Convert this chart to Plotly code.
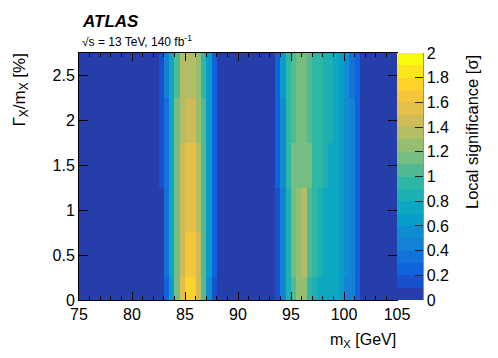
#! /usr/bin/env python
# -*- coding: utf-8 -*-

import plotly.graph_objects as go

# mass bins (0.5 GeV wide) and width rows
mass_gev = [75.25 + 0.5 * i for i in range(60)]
width_pct = [0.0, 0.5, 1.0, 1.5, 2.0, 2.5]

# local significance, one list per width row (60 mass bins each)
sig_w00 = [0.02, 0.02, 0.02, 0.02, 0.02, 0.02, 0.02, 0.02, 0.02, 0.02,
           0.02, 0.02, 0.02, 0.02, 0.02, 0.05, 0.20, 0.60, 1.10, 1.50,
           1.75, 1.72, 1.45, 1.00, 0.50, 0.15, 0.02, 0.02, 0.02, 0.02,
           0.02, 0.02, 0.02, 0.02, 0.02, 0.02, 0.02, 0.10, 0.45, 0.85,
           1.05, 1.25, 1.25, 0.95, 0.85, 0.75, 0.75, 0.70, 0.70, 0.65,
           0.45, 0.40, 0.20, 0.02, 0.02, 0.02, 0.02, 0.02, 0.02, 0.02]
sig_w05 = [0.02, 0.02, 0.02, 0.02, 0.02, 0.02, 0.02, 0.02, 0.02, 0.02,
           0.02, 0.02, 0.02, 0.02, 0.02, 0.05, 0.30, 0.70, 1.10, 1.45,
           1.62, 1.60, 1.40, 1.05, 0.60, 0.20, 0.03, 0.02, 0.02, 0.02,
           0.02, 0.02, 0.02, 0.02, 0.02, 0.02, 0.02, 0.10, 0.40, 0.80,
           1.10, 1.25, 1.30, 1.00, 0.90, 0.80, 0.75, 0.70, 0.70, 0.65,
           0.55, 0.45, 0.25, 0.05, 0.02, 0.02, 0.02, 0.02, 0.02, 0.02]
sig_w10 = [0.02, 0.02, 0.02, 0.02, 0.02, 0.02, 0.02, 0.02, 0.02, 0.02,
           0.02, 0.02, 0.02, 0.02, 0.02, 0.08, 0.35, 0.75, 1.10, 1.45,
           1.58, 1.55, 1.35, 1.05, 0.65, 0.25, 0.04, 0.02, 0.02, 0.02,
           0.02, 0.02, 0.02, 0.02, 0.02, 0.02, 0.02, 0.15, 0.45, 0.85,
           1.10, 1.20, 1.30, 1.00, 0.90, 0.80, 0.75, 0.72, 0.70, 0.65,
           0.55, 0.45, 0.25, 0.05, 0.02, 0.02, 0.02, 0.02, 0.02, 0.02]
sig_w15 = [0.02, 0.02, 0.02, 0.02, 0.02, 0.02, 0.02, 0.02, 0.02, 0.02,
           0.02, 0.02, 0.02, 0.02, 0.02, 0.10, 0.35, 0.75, 1.10, 1.40,
           1.52, 1.50, 1.30, 1.00, 0.65, 0.25, 0.05, 0.02, 0.02, 0.02,
           0.02, 0.02, 0.02, 0.02, 0.02, 0.02, 0.02, 0.20, 0.50, 0.90,
           1.10, 1.15, 1.15, 1.10, 0.95, 0.90, 0.80, 0.75, 0.70, 0.65,
           0.55, 0.40, 0.25, 0.05, 0.02, 0.02, 0.02, 0.02, 0.02, 0.02]
sig_w20 = [0.02, 0.02, 0.02, 0.02, 0.02, 0.02, 0.02, 0.02, 0.02, 0.02,
           0.02, 0.02, 0.02, 0.02, 0.02, 0.10, 0.35, 0.75, 1.10, 1.35,
           1.48, 1.42, 1.28, 1.00, 0.60, 0.25, 0.05, 0.02, 0.02, 0.02,
           0.02, 0.02, 0.02, 0.02, 0.02, 0.02, 0.02, 0.20, 0.55, 0.90,
           1.05, 1.10, 1.10, 1.05, 0.95, 0.90, 0.85, 0.80, 0.70, 0.65,
           0.55, 0.40, 0.25, 0.08, 0.02, 0.02, 0.02, 0.02, 0.02, 0.02]
sig_w25 = [0.02, 0.02, 0.02, 0.02, 0.02, 0.02, 0.02, 0.02, 0.02, 0.02,
           0.02, 0.02, 0.02, 0.02, 0.05, 0.15, 0.40, 0.75, 1.05, 1.30,
           1.38, 1.38, 1.25, 0.95, 0.60, 0.25, 0.05, 0.02, 0.02, 0.02,
           0.02, 0.02, 0.02, 0.02, 0.02, 0.02, 0.02, 0.25, 0.60, 0.90,
           1.05, 1.10, 1.10, 1.05, 0.95, 0.90, 0.85, 0.80, 0.70, 0.60,
           0.50, 0.35, 0.20, 0.08, 0.02, 0.02, 0.02, 0.02, 0.02, 0.02]

sig_rows = [sig_w00, sig_w05, sig_w10, sig_w15, sig_w20, sig_w25]

# ROOT kBird palette, cut into 20 contour bands (0.1 sigma each)
BIRD_STOPS = [0.0, 0.125, 0.25, 0.375, 0.5, 0.625, 0.75, 0.875, 1.0]
BIRD_R = [0.2082, 0.0592, 0.0780, 0.0232, 0.1802, 0.5301, 0.8186, 0.9956, 0.9764]
BIRD_G = [0.1664, 0.3599, 0.5041, 0.6419, 0.7178, 0.7492, 0.7328, 0.7862, 0.9832]
BIRD_B = [0.5293, 0.8684, 0.8385, 0.7914, 0.6425, 0.4662, 0.3499, 0.1968, 0.0539]
N_BANDS = 20


def bird(p):
    """Interpolate the kBird palette at position p in [0, 1]."""
    for k in range(len(BIRD_STOPS) - 1):
        if p <= BIRD_STOPS[k + 1]:
            f = (p - BIRD_STOPS[k]) / (BIRD_STOPS[k + 1] - BIRD_STOPS[k])
            return tuple(int(round(255 * (c[k] + f * (c[k + 1] - c[k]))))
                         for c in (BIRD_R, BIRD_G, BIRD_B))
    return tuple(int(round(255 * c[-1])) for c in (BIRD_R, BIRD_G, BIRD_B))


colorscale = []
for i in range(N_BANDS):
    r, g, b = bird(min((i + 0.99) / N_BANDS, 1.0))
    col = f'rgb({r},{g},{b})'
    colorscale += [[i / N_BANDS, col], [(i + 1) / N_BANDS, col]]

# the page body has an 8px margin, so the figure is drawn 8px in
PAGE_OFF = 8
FIG_W, FIG_H = 498 - PAGE_OFF, 358 - PAGE_OFF

# plot area in page pixels (for placing the text)
L, R, T, B = 79, 397, 53, 300


def px_x(x):
    return (x - L) / (R - L)


def px_y(y):
    return (B - y) / (B - T)


FONT = 'Liberation Sans, Arial, Helvetica, sans-serif'

fig = go.Figure(go.Heatmap(
    x=mass_gev, y=width_pct, z=sig_rows,
    zmin=0, zmax=2, colorscale=colorscale,
    colorbar=dict(x=1.0, xanchor='left', xpad=0, y=0.5, yanchor='middle',
                  ypad=0, len=1, lenmode='fraction',
                  thickness=26, thicknessmode='pixels',
                  outlinewidth=0, tick0=0, dtick=0.2,
                  ticks='inside', ticklen=8, tickcolor='#222',
                  tickfont=dict(family=FONT, size=16, color='black')),
))

fig.update_xaxes(range=[75, 105], tick0=75, dtick=5,
                 ticks='inside', ticklen=8, tickcolor='black',
                 showline=True, linecolor='black', linewidth=1,
                 mirror='ticks', showgrid=False, zeroline=False,
                 minor=dict(dtick=1, ticks='inside', ticklen=4,
                            tickcolor='black'),
                 tickfont=dict(family=FONT, size=16, color='black'))
fig.update_yaxes(range=[0, 2.75], tick0=0, dtick=0.5,
                 ticks='inside', ticklen=9, tickcolor='black',
                 showline=True, linecolor='black', linewidth=1,
                 mirror='ticks', showgrid=False, zeroline=False,
                 tickfont=dict(family=FONT, size=16, color='black'))

annotations = [
    dict(text='<b><i>ATLAS</i></b>', x=px_x(80), y=px_y(21.5),
         xanchor='left', yanchor='middle', font=dict(size=17)),
    dict(text='\u221as = 13 TeV, 140 fb<sup>-1</sup>', x=px_x(80), y=px_y(41),
         xanchor='left', yanchor='middle', font=dict(size=12)),
    dict(text='m<sub>X</sub> [GeV]', x=px_x(398), y=px_y(340),
         xanchor='right', yanchor='middle', font=dict(size=16)),
    dict(text='\u0393<sub>X</sub>/m<sub>X</sub> [%]', x=px_x(20), y=px_y(52),
         xanchor='center', yanchor='top', textangle=-90, font=dict(size=17)),
    dict(text='Local significance [\u03c3]', x=px_x(472), y=px_y(53),
         xanchor='center', yanchor='top', textangle=-90, font=dict(size=16.5)),
]
for a in annotations:
    a.update(xref='paper', yref='paper', showarrow=False)
    a['font'].update(family=FONT, color='black')

fig.update_layout(
    width=FIG_W, height=FIG_H,
    margin=dict(l=L - PAGE_OFF, r=FIG_W - (R - PAGE_OFF), t=T - PAGE_OFF,
                b=FIG_H - (B - PAGE_OFF), autoexpand=False),
    plot_bgcolor='white', paper_bgcolor='white',
    font=dict(family=FONT, size=16, color='black'),
    annotations=annotations,
    shapes=[dict(type='line', xref='paper', yref='paper',
                 x0=px_x(423), x1=px_x(423), y0=0, y1=1,
                 line=dict(color='#222', width=1))],
)

fig.write_html("out.html")
